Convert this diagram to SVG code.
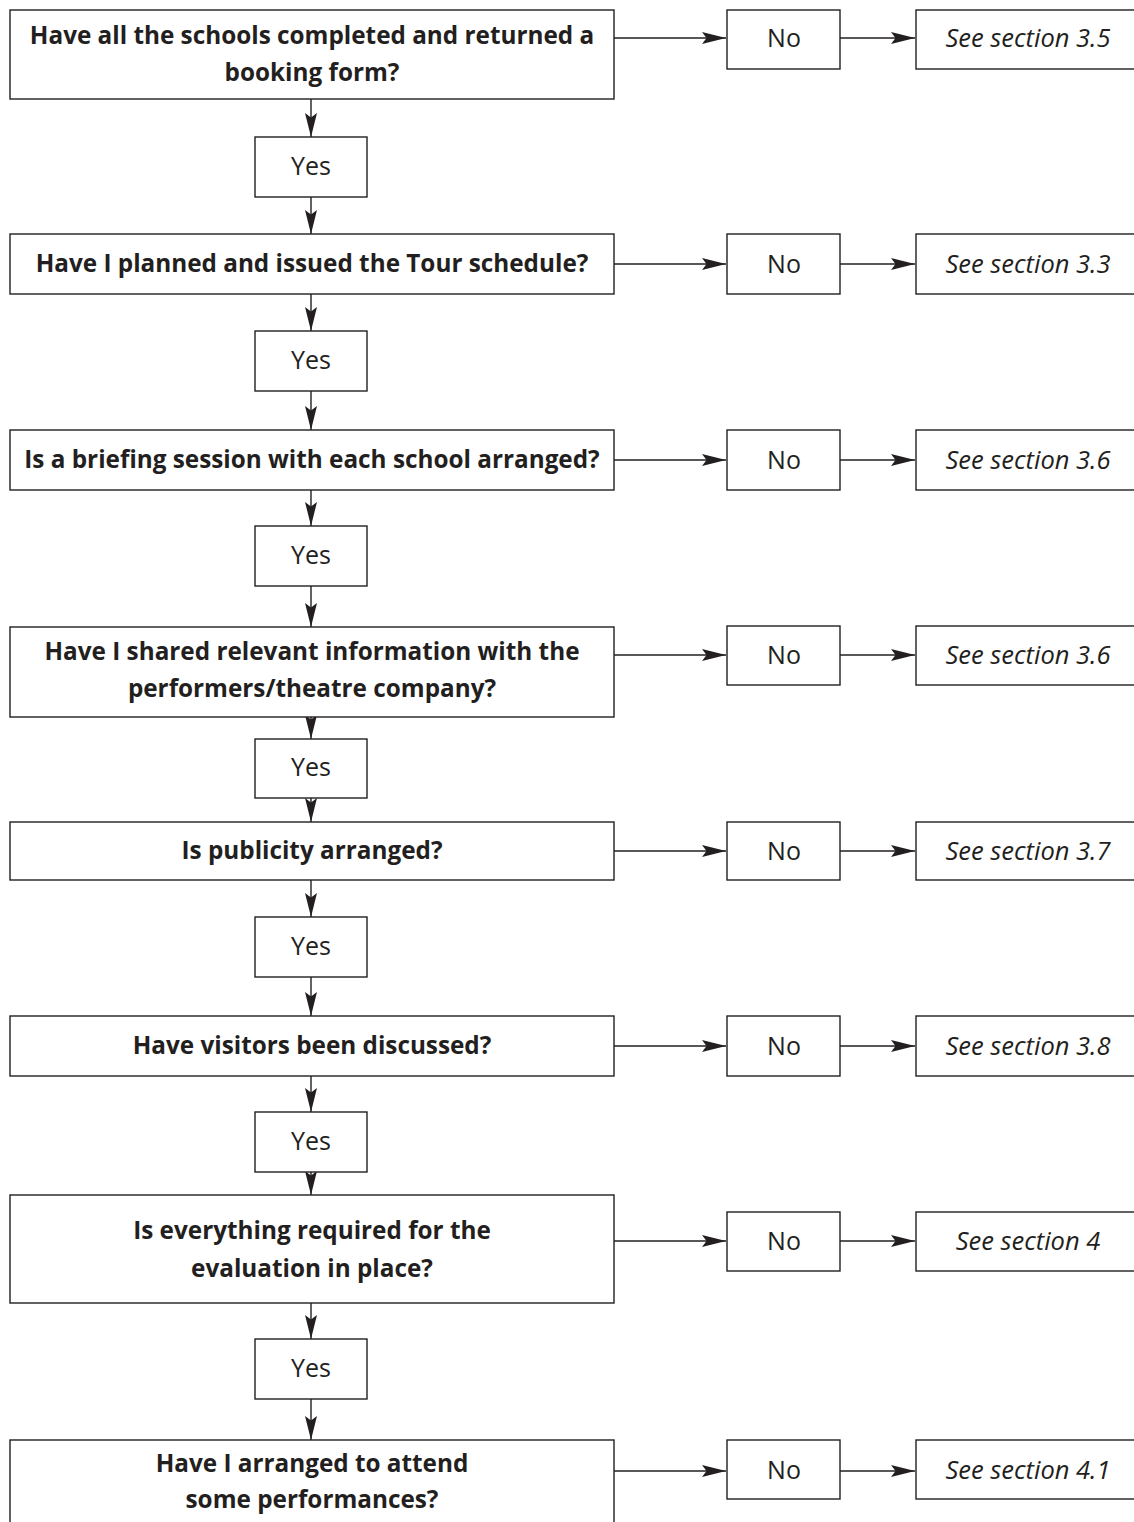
<svg xmlns="http://www.w3.org/2000/svg" width="1134" height="1522" viewBox="0 0 1134 1522">
<style>
.box{fill:#fff;stroke:#231f20;stroke-width:1.4}
.q{font-family:"Open Sans","Liberation Sans",sans-serif;font-weight:bold;font-size:24.3px;fill:#231f20;text-anchor:middle}
.yn{font-family:"Open Sans","Liberation Sans",sans-serif;font-size:25px;fill:#231f20;text-anchor:middle}
.see{font-family:"Open Sans","Liberation Sans",sans-serif;font-style:italic;font-size:25.5px;fill:#231f20;text-anchor:middle}
.c{stroke:#231f20;stroke-width:1.4;fill:none;marker-end:url(#ah)}
</style>
<defs>
<marker id="ah" viewBox="-25 -7 26 14" refX="0" refY="0" markerWidth="26" markerHeight="14" markerUnits="userSpaceOnUse" orient="auto">
<path d="M0,0 L-24,-6 L-19.5,0 L-24,6 Z" fill="#231f20"/>
</marker>
</defs>
<rect width="1134" height="1522" fill="#fff"/>

<g id="connectors">
<path class="c" d="M311,99 V137"/>
<path class="c" d="M311,197 V234"/>
<path class="c" d="M311,294 V331"/>
<path class="c" d="M311,391 V430"/>
<path class="c" d="M311,490 V526"/>
<path class="c" d="M311,586 V627"/>
<path class="c" d="M311,717 V739"/>
<path class="c" d="M311,798 V822"/>
<path class="c" d="M311,880 V917"/>
<path class="c" d="M311,977 V1016"/>
<path class="c" d="M311,1076 V1112"/>
<path class="c" d="M311,1172 V1195"/>
<path class="c" d="M311,1303 V1339"/>
<path class="c" d="M311,1399 V1440"/>
<path class="c" d="M614,38 H726"/><path class="c" d="M840,38 H915"/>
<path class="c" d="M614,264 H726"/><path class="c" d="M840,264 H915"/>
<path class="c" d="M614,460 H726"/><path class="c" d="M840,460 H915"/>
<path class="c" d="M614,655 H726"/><path class="c" d="M840,655 H915"/>
<path class="c" d="M614,851 H726"/><path class="c" d="M840,851 H915"/>
<path class="c" d="M614,1046 H726"/><path class="c" d="M840,1046 H915"/>
<path class="c" d="M614,1241 H726"/><path class="c" d="M840,1241 H915"/>
<path class="c" d="M614,1471 H726"/><path class="c" d="M840,1471 H915"/>
</g>

<g id="q1"><rect class="box" x="10" y="10" width="604" height="89"/><text class="q" x="312" y="44">Have all the schools completed and returned a</text><text class="q" x="312" y="81">booking form?</text></g>
<g id="yes1"><rect class="box" x="255" y="137" width="112" height="60"/><text class="yn" x="311" y="175">Yes</text></g>
<g id="no1"><rect class="box" x="727" y="10" width="113" height="59"/><text class="yn" x="784" y="47">No</text></g>
<g id="see1"><rect class="box" x="916" y="10" width="222" height="59"/><text class="see" x="1028" y="47">See section 3.5</text></g>

<g id="q2"><rect class="box" x="10" y="234" width="604" height="60"/><text class="q" x="312" y="272">Have I planned and issued the Tour schedule?</text></g>
<g id="yes2"><rect class="box" x="255" y="331" width="112" height="60"/><text class="yn" x="311" y="369">Yes</text></g>
<g id="no2"><rect class="box" x="727" y="234" width="113" height="60"/><text class="yn" x="784" y="273">No</text></g>
<g id="see2"><rect class="box" x="916" y="234" width="222" height="60"/><text class="see" x="1028" y="273">See section 3.3</text></g>

<g id="q3"><rect class="box" x="10" y="430" width="604" height="60"/><text class="q" x="312" y="468">Is a briefing session with each school arranged?</text></g>
<g id="yes3"><rect class="box" x="255" y="526" width="112" height="60"/><text class="yn" x="311" y="564">Yes</text></g>
<g id="no3"><rect class="box" x="727" y="430" width="113" height="60"/><text class="yn" x="784" y="469">No</text></g>
<g id="see3"><rect class="box" x="916" y="430" width="222" height="60"/><text class="see" x="1028" y="469">See section 3.6</text></g>

<g id="q4"><rect class="box" x="10" y="627" width="604" height="90"/><text class="q" x="312" y="660">Have I shared relevant information with the</text><text class="q" x="312" y="697">performers/theatre company?</text></g>
<g id="yes4"><rect class="box" x="255" y="739" width="112" height="59"/><text class="yn" x="311" y="776">Yes</text></g>
<g id="no4"><rect class="box" x="727" y="626" width="113" height="59"/><text class="yn" x="784" y="664">No</text></g>
<g id="see4"><rect class="box" x="916" y="626" width="222" height="59"/><text class="see" x="1028" y="664">See section 3.6</text></g>

<g id="q5"><rect class="box" x="10" y="822" width="604" height="58"/><text class="q" x="312" y="859">Is publicity arranged?</text></g>
<g id="yes5"><rect class="box" x="255" y="917" width="112" height="60"/><text class="yn" x="311" y="955">Yes</text></g>
<g id="no5"><rect class="box" x="727" y="822" width="113" height="58"/><text class="yn" x="784" y="860">No</text></g>
<g id="see5"><rect class="box" x="916" y="822" width="222" height="58"/><text class="see" x="1028" y="860">See section 3.7</text></g>

<g id="q6"><rect class="box" x="10" y="1016" width="604" height="60"/><text class="q" x="312" y="1054">Have visitors been discussed?</text></g>
<g id="yes6"><rect class="box" x="255" y="1112" width="112" height="60"/><text class="yn" x="311" y="1150">Yes</text></g>
<g id="no6"><rect class="box" x="727" y="1016" width="113" height="60"/><text class="yn" x="784" y="1055">No</text></g>
<g id="see6"><rect class="box" x="916" y="1016" width="222" height="60"/><text class="see" x="1028" y="1055">See section 3.8</text></g>

<g id="q7"><rect class="box" x="10" y="1195" width="604" height="108"/><text class="q" x="312" y="1239">Is everything required for the</text><text class="q" x="312" y="1277">evaluation in place?</text></g>
<g id="yes7"><rect class="box" x="255" y="1339" width="112" height="60"/><text class="yn" x="311" y="1377">Yes</text></g>
<g id="no7"><rect class="box" x="727" y="1212" width="113" height="59"/><text class="yn" x="784" y="1250">No</text></g>
<g id="see7"><rect class="box" x="916" y="1212" width="222" height="59"/><text class="see" x="1028" y="1250">See section 4</text></g>

<g id="q8"><rect class="box" x="10" y="1440" width="604" height="95"/><text class="q" x="312" y="1472">Have I arranged to attend</text><text class="q" x="312" y="1508">some performances?</text></g>
<g id="no8"><rect class="box" x="727" y="1440" width="113" height="59"/><text class="yn" x="784" y="1479">No</text></g>
<g id="see8"><rect class="box" x="916" y="1440" width="222" height="59"/><text class="see" x="1028" y="1479">See section 4.1</text></g>
</svg>
